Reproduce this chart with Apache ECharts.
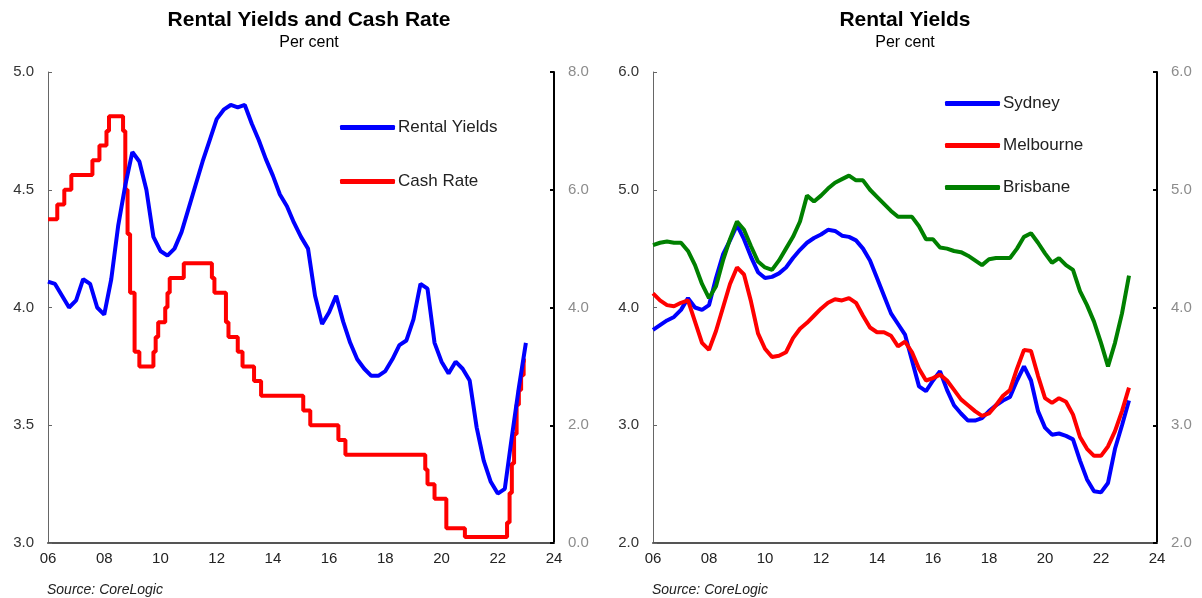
<!DOCTYPE html>
<html>
<head>
<meta charset="utf-8">
<title>Rental Yields</title>
<script src="https://cdn.jsdelivr.net/npm/echarts@6/dist/echarts.min.js"></script>
<style>
  html, body { margin: 0; padding: 0; background: #fff; }
  #chart { width: 1202px; height: 598px; }
</style>
</head>
<body>
<div id="chart"></div>
<script>
// quarterly observations, 2006 Q1 .. 2023 Q1 (x in years)
const quarters = [];
for (let y = 2006; y <= 2023; y += 0.25) quarters.push(y);

// left panel: national rental yield (per cent)
const rentalYields = [
  4.11, 4.10, 4.05, 4.00, 4.03, 4.12, 4.10, 4.00, 3.97, 4.12, 4.35, 4.52,
  4.66, 4.62, 4.50, 4.30, 4.24, 4.22, 4.25, 4.32, 4.42, 4.52, 4.62, 4.71,
  4.80, 4.84, 4.86, 4.85, 4.86, 4.78, 4.71, 4.63, 4.56, 4.48, 4.43, 4.36,
  4.30, 4.25, 4.05, 3.93, 3.98, 4.05, 3.94, 3.85, 3.78, 3.74, 3.71, 3.71,
  3.73, 3.78, 3.84, 3.86, 3.95, 4.10, 4.08, 3.85, 3.77, 3.72, 3.77, 3.74,
  3.69, 3.49, 3.35, 3.26, 3.21, 3.23, 3.45, 3.66, 3.85
];

// cash rate target: month of change (as year fraction) and new level
const cashDates = [
  2006.0, 2006.33, 2006.58, 2006.83, 2007.58, 2007.83, 2008.08, 2008.17,
  2008.67, 2008.75, 2008.83, 2008.92, 2009.08, 2009.25, 2009.75, 2009.83,
  2009.92, 2010.17, 2010.25, 2010.33, 2010.83, 2011.83, 2011.92, 2012.33,
  2012.42, 2012.75, 2012.92, 2013.33, 2013.58, 2015.08, 2015.33, 2016.33,
  2016.58, 2019.42, 2019.5, 2019.75, 2020.17, 2020.83, 2022.33, 2022.42,
  2022.5, 2022.58, 2022.67, 2022.75, 2022.83, 2022.92, 2023.0
];
const cashValues = [
  5.50, 5.75, 6.00, 6.25, 6.50, 6.75, 7.00, 7.25,
  7.00, 6.00, 5.25, 4.25, 3.25, 3.00, 3.25, 3.50,
  3.75, 4.00, 4.25, 4.50, 4.75, 4.50, 4.25, 3.75,
  3.50, 3.25, 3.00, 2.75, 2.50, 2.25, 2.00, 1.75,
  1.50, 1.25, 1.00, 0.75, 0.25, 0.10, 0.35, 0.85,
  1.35, 1.85, 2.35, 2.60, 2.85, 3.10, 3.10
];

// right panel: capital city rental yields (per cent)
const sydney = [
  3.81, 3.85, 3.89, 3.92, 3.98, 4.08, 4.00, 3.98, 4.02, 4.25, 4.45, 4.57,
  4.70, 4.58, 4.43, 4.30, 4.25, 4.26, 4.29, 4.34, 4.42, 4.49, 4.55, 4.59,
  4.62, 4.66, 4.65, 4.61, 4.60, 4.57, 4.50, 4.40, 4.25, 4.10, 3.95, 3.86,
  3.77, 3.55, 3.33, 3.29, 3.38, 3.46, 3.30, 3.17, 3.10, 3.04, 3.04, 3.06,
  3.12, 3.17, 3.21, 3.24, 3.38, 3.50, 3.38, 3.12, 2.98, 2.92, 2.93, 2.91,
  2.88, 2.70, 2.54, 2.44, 2.43, 2.51, 2.80, 3.00, 3.21
];
const melbourne = [
  4.12, 4.06, 4.02, 4.01, 4.04, 4.06, 3.88, 3.70, 3.64, 3.80, 4.00, 4.20,
  4.34, 4.28, 4.05, 3.78, 3.65, 3.58, 3.59, 3.62, 3.74, 3.82, 3.87, 3.93,
  3.99, 4.04, 4.07, 4.06, 4.08, 4.04, 3.93, 3.83, 3.79, 3.79, 3.76, 3.67,
  3.71, 3.62, 3.48, 3.38, 3.40, 3.43, 3.38, 3.30, 3.22, 3.17, 3.12, 3.08,
  3.10, 3.17, 3.25, 3.30, 3.48, 3.64, 3.63, 3.42, 3.23, 3.19, 3.23, 3.20,
  3.09, 2.90, 2.80, 2.74, 2.74, 2.82, 2.95, 3.12, 3.32
];
const brisbane = [
  4.53, 4.55, 4.56, 4.55, 4.55, 4.48, 4.36, 4.20, 4.08, 4.18, 4.40, 4.58,
  4.73, 4.66, 4.52, 4.39, 4.34, 4.32, 4.40, 4.50, 4.60, 4.73, 4.95, 4.90,
  4.95, 5.01, 5.06, 5.09, 5.12, 5.08, 5.08, 5.00, 4.94, 4.88, 4.82, 4.77,
  4.77, 4.77, 4.69, 4.58, 4.58, 4.51, 4.50, 4.48, 4.47, 4.44, 4.40, 4.36,
  4.41, 4.42, 4.42, 4.42, 4.50, 4.60, 4.63, 4.55, 4.46, 4.38, 4.42, 4.36,
  4.32, 4.14, 4.02, 3.88, 3.70, 3.50, 3.70, 3.95, 4.27
];

const FONT = '"Liberation Sans", Arial, sans-serif';
const pair = (xs, ys) => xs.map((x, i) => [x, ys[i]]);

const chart = echarts.init(document.getElementById('chart'));

const xAxisBase = {
  type: 'value',
  min: 2006,
  max: 2024,
  interval: 2,
  splitLine: { show: false },
  axisTick: { show: false },
  axisLine: { lineStyle: { color: '#555', width: 2 } },
  axisLabel: {
    color: '#222',
    fontSize: 15,
    fontFamily: FONT,
    margin: 8,
    formatter: (v) => String(v).slice(2),
  },
};

const yAxisBase = (min, max, interval, gridIndex, position, labelColor, lineColor, lineWidth) => ({
  type: 'value',
  gridIndex,
  position,
  min,
  max,
  interval,
  splitLine: { show: false },
  axisLine: { show: true, lineStyle: { color: lineColor, width: lineWidth } },
  axisTick: { show: true, inside: true, length: 4, lineStyle: { color: lineColor, width: lineWidth } },
  axisLabel: {
    color: labelColor,
    fontSize: 15,
    fontFamily: FONT,
    margin: 14,
    formatter: (v) => v.toFixed(1),
  },
});

const lineSeries = (name, data, color, xAxisIndex, yAxisIndex, extra) => ({
  name,
  type: 'line',
  xAxisIndex,
  yAxisIndex,
  data,
  symbol: 'none',
  animation: false,
  lineStyle: { color, width: 4 },
  itemStyle: { color },
  ...extra,
});

const legendText = { color: '#222', fontSize: 17, fontFamily: FONT, padding: [0, 0, 0, -2] };

const legendBase = {
  orient: 'vertical',
  icon: 'roundRect',
  itemWidth: 55,
  itemHeight: 5,
  textStyle: legendText,
};

chart.setOption({
  backgroundColor: '#fff',
  animation: false,
  grid: [
    { left: 48, top: 72, width: 506, height: 471 },
    { left: 653, top: 72, width: 504, height: 471 },
  ],
  xAxis: [
    { ...xAxisBase, gridIndex: 0 },
    { ...xAxisBase, gridIndex: 1 },
  ],
  yAxis: [
    yAxisBase(3, 5, 0.5, 0, 'left', '#333', '#666', 1),
    yAxisBase(0, 8, 2, 0, 'right', '#8c8c8c', '#000', 2),
    yAxisBase(2, 6, 1, 1, 'left', '#333', '#666', 1),
    yAxisBase(2, 6, 1, 1, 'right', '#8c8c8c', '#000', 2),
  ],
  legend: [
    { ...legendBase, data: ['Rental Yields', 'Cash Rate'], left: 335, top: 114, itemGap: 37 },
    { ...legendBase, data: ['Sydney', 'Melbourne', 'Brisbane'], left: 940, top: 90, itemGap: 25 },
  ],
  graphic: [
    { type: 'text', x: 309, y: 20, style: { text: 'Rental Yields and Cash Rate', font: 'bold 21px ' + FONT, fill: '#000', align: 'center', verticalAlign: 'middle' } },
    { type: 'text', x: 309, y: 43, style: { text: 'Per cent', font: '16px ' + FONT, fill: '#000', align: 'center', verticalAlign: 'middle' } },
    { type: 'text', x: 905, y: 20, style: { text: 'Rental Yields', font: 'bold 21px ' + FONT, fill: '#000', align: 'center', verticalAlign: 'middle' } },
    { type: 'text', x: 905, y: 43, style: { text: 'Per cent', font: '16px ' + FONT, fill: '#000', align: 'center', verticalAlign: 'middle' } },
    { type: 'text', x: 47, y: 590, style: { text: 'Source: CoreLogic', font: 'italic 14px ' + FONT, fill: '#222', align: 'left', verticalAlign: 'middle' } },
    { type: 'text', x: 652, y: 590, style: { text: 'Source: CoreLogic', font: 'italic 14px ' + FONT, fill: '#222', align: 'left', verticalAlign: 'middle' } },
  ],
  series: [
    lineSeries('Rental Yields', pair(quarters, rentalYields), '#0000ff', 0, 0, { z: 3 }),
    lineSeries('Cash Rate', pair(cashDates, cashValues), '#ff0000', 0, 1, { step: 'end', z: 2 }),
    lineSeries('Sydney', pair(quarters, sydney), '#0000ff', 1, 2, { z: 2 }),
    lineSeries('Melbourne', pair(quarters, melbourne), '#ff0000', 1, 2, { z: 3 }),
    lineSeries('Brisbane', pair(quarters, brisbane), '#008000', 1, 2, { z: 4 }),
  ],
});
</script>
</body>
</html>
